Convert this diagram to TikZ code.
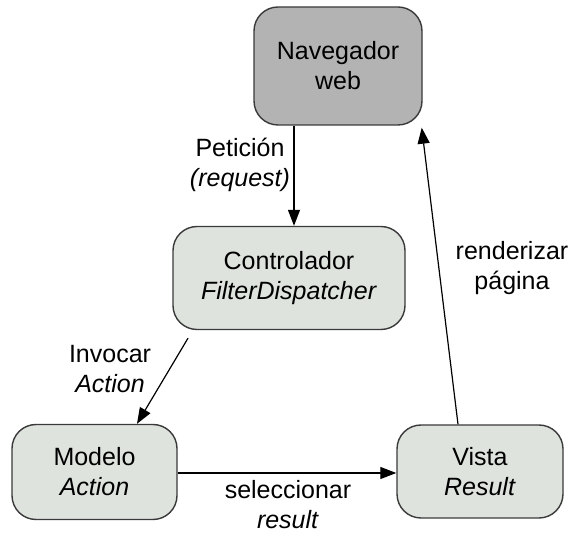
\documentclass[tikz,border=0pt]{standalone}
\usepackage{fontspec}
\setmainfont{Liberation Sans}
\usetikzlibrary{arrows.meta}
\definecolor{bordc}{HTML}{3A3A3A}
\definecolor{navfill}{HTML}{B3B3B3}
\definecolor{boxfill}{HTML}{DEE3DE}
\begin{document}
\begin{tikzpicture}[x=1pt,y=-1pt,
  box/.style={draw=bordc,line width=1.4pt,rounded corners=24pt,fill=boxfill,align=center,
    font=\fontsize{25}{30}\selectfont,inner sep=0pt},
  conn/.style={line width=1.2pt,-{Triangle[length=16pt,width=12pt]}},
  lbl/.style={align=center,font=\fontsize{25}{30}\selectfont,inner sep=1pt}]
\useasboundingbox (0,0) rectangle (579,534);
\node[box,fill=navfill,minimum width=168pt,minimum height=118pt] (nav) at (338,66) {Navegador\\web};
\node[box,minimum width=232pt,minimum height=103pt] (ctl) at (289,278) {Controlador\\\textit{FilterDispatcher}};
\node[box,minimum width=165pt,minimum height=95pt] (mod) at (94.5,472) {Modelo\\\textit{Action}};
\node[box,minimum width=166pt,minimum height=93pt] (vis) at (480,471.5) {Vista\\\textit{Result}};
\draw[conn] ([xshift=-44pt]nav.south) -- ([xshift=5pt]ctl.north);
\draw[conn] ([xshift=-101pt,yshift=-8pt]ctl.south) -- ([xshift=42.5pt]mod.north);
\draw[conn] ([yshift=-1pt]mod.east) -- ([yshift=-1.5pt]vis.west);
\draw[conn] ([xshift=-22pt]vis.north) -- ([xshift=-1pt,yshift=-2pt]nav.south east);
\node[lbl] (l1) at (240,165) {Petición\\\textit{(request)}};
\node[lbl] (l2) at (110,369) {Invocar\\\textit{Action}};
\node[lbl] (l3) at (288,505) {seleccionar\\\textit{result}};
\node[lbl] (l4) at (512,268) {renderizar\\página};
\end{tikzpicture}
\end{document}
